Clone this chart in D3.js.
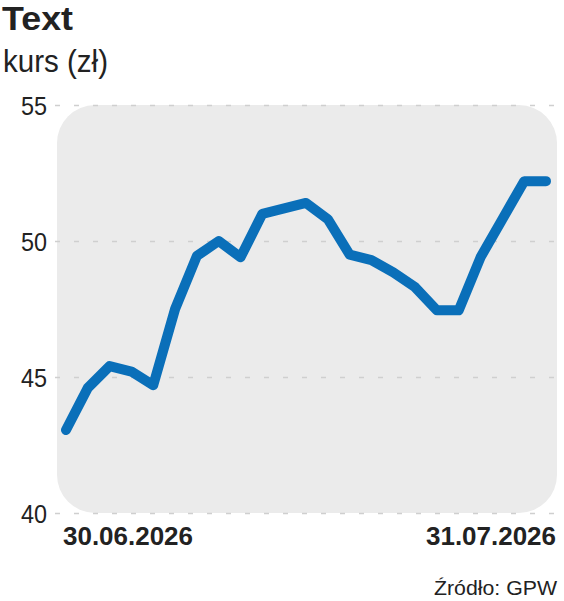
<!DOCTYPE html>
<html>
<head>
<meta charset="utf-8">
<script src="https://cdn.jsdelivr.net/npm/d3@7/dist/d3.min.js"></script>
<style>
  html, body { margin: 0; padding: 0; background: #ffffff; }
  svg { display: block; }
</style>
</head>
<body>
<svg id="chart" width="564" height="601"></svg>
<script>
// ---- data ----
const title = "Text";
const unitLabel = "kurs (zł)";
const source = "Źródło: GPW";
const prices = [43.05, 44.6, 45.4, 45.2, 44.7, 47.5, 49.45, 50.0, 49.4, 51.0, 51.2, 51.4,
                50.8, 49.5, 49.3, 48.85, 48.3, 47.45, 47.45, 49.4, 50.8, 52.2, 52.2];
const yTicks = [40, 45, 50, 55];
const xTickLabels = ["30.06.2026", "31.07.2026"];

// ---- layout ----
const FONT = "'Liberation Sans', Arial, sans-serif";
const svg = d3.select("#chart");
const x = d3.scaleLinear().domain([0, prices.length - 1]).range([66, 546]);
const y = d3.scaleLinear().domain([40, 55]).range([513, 105]);

// background panel
svg.append("rect")
  .attr("x", 57).attr("y", y(55))
  .attr("width", 500).attr("height", y(40) - y(55))
  .attr("rx", 38).attr("ry", 38)
  .attr("fill", "#ebebeb");

// grid + y axis
const yAxis = d3.axisLeft(y).tickValues(yTicks).tickSize(-501).tickPadding(8).tickFormat(d3.format("d"));
const gy = svg.append("g").attr("transform", "translate(556,0)").call(yAxis);
gy.select(".domain").remove();
gy.selectAll(".tick line")
  .attr("transform", "translate(-501,0)")
  .attr("stroke", "#cfcfcf").attr("stroke-width", 1.5)
  .attr("stroke-dasharray", "5,14");
gy.selectAll(".tick text")
  .attr("x", -509)
  .attr("text-anchor", "end")
  .attr("dy", "0.36em")
  .attr("textLength", 26)
  .attr("lengthAdjust", "spacingAndGlyphs")
  .style("font-family", FONT)
  .style("font-size", "26px")
  .attr("fill", "#222");

// line
const line = d3.line().x((d, i) => x(i)).y(d => y(d));
svg.append("path")
  .datum(prices)
  .attr("d", line)
  .attr("fill", "none")
  .attr("stroke", "#0a6fb9")
  .attr("stroke-width", 10)
  .attr("stroke-linejoin", "round")
  .attr("stroke-linecap", "round");

// x labels
const xLab = svg.append("g")
  .style("font-family", FONT)
  .style("font-size", "25px")
  .style("font-weight", "bold")
  .attr("fill", "#222");
xLab.append("text").attr("x", 63).attr("y", 545).attr("text-anchor", "start")
  .attr("textLength", 130).attr("lengthAdjust", "spacingAndGlyphs").text(xTickLabels[0]);
xLab.append("text").attr("x", 426).attr("y", 545).attr("text-anchor", "start")
  .attr("textLength", 130).attr("lengthAdjust", "spacingAndGlyphs").text(xTickLabels[1]);

// titles
svg.append("text").attr("x", 2).attr("y", 30)
  .attr("textLength", 71).attr("lengthAdjust", "spacingAndGlyphs")
  .style("font-family", FONT)
  .style("font-size", "34px").style("font-weight", "bold")
  .attr("fill", "#222").text(title);
svg.append("text").attr("x", 3).attr("y", 72)
  .attr("textLength", 105).attr("lengthAdjust", "spacingAndGlyphs")
  .style("font-family", FONT)
  .style("font-size", "32px")
  .attr("fill", "#222").text(unitLabel);

// source
svg.append("text").attr("x", 434).attr("y", 595)
  .attr("textLength", 123).attr("lengthAdjust", "spacingAndGlyphs")
  .style("font-family", FONT)
  .style("font-size", "20px")
  .attr("fill", "#222").text(source);
</script>
</body>
</html>
